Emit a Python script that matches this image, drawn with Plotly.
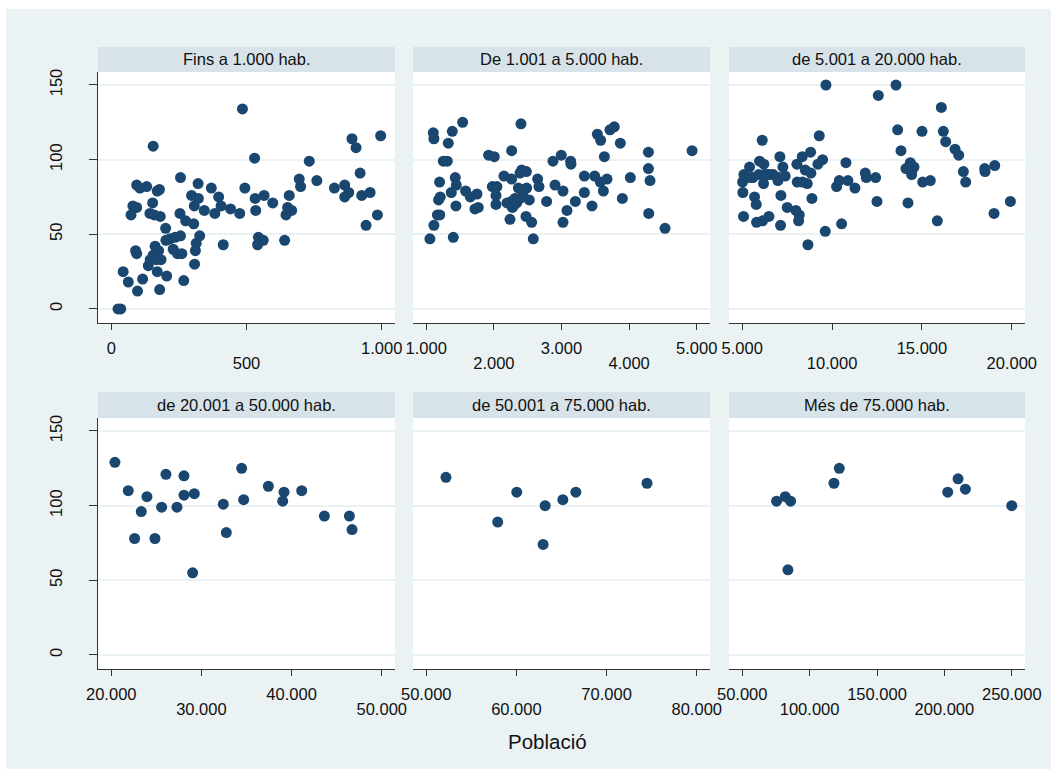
import plotly.graph_objects as go

# ---------------- data ----------------
panel_titles = ["Fins a 1.000 hab.", "De 1.001 a 5.000 hab.", "de 5.001 a 20.000 hab.",
                "de 20.001 a 50.000 hab.", "de 50.001 a 75.000 hab.", "Més de 75.000 hab."]

p1_x = [25, 35, 44, 63, 97, 116, 137, 90, 94, 170, 179, 205, 268, 308, 155, 485, 530, 996, 890, 905,
        732, 920, 760, 695, 700, 825, 863, 878, 863, 926, 957, 984, 942, 658, 652, 646, 667, 641, 597, 565,
        532, 534, 494, 475, 441, 544, 562, 541, 414, 370, 397, 406, 383, 344, 321, 297, 322, 307, 256, 254,
        275, 305, 201, 217, 236, 256, 202, 229, 245, 261, 314, 327, 311, 162, 175, 155, 184, 166, 144, 94,
        106, 131, 178, 170, 153, 80, 94, 73, 143, 159, 181]
p1_y = [0, 0, 25, 18, 12, 20, 29, 39, 37, 25, 13, 22, 19, 30, 109, 134, 101, 116, 114, 108,
        99, 91, 86, 87, 82, 81, 83, 78, 75, 76, 78, 63, 56, 76, 68, 63, 66, 46, 71, 76,
        74, 66, 81, 64, 67, 48, 46, 43, 43, 81, 75, 69, 64, 66, 84, 76, 74, 69, 88, 64,
        59, 57, 54, 47, 48, 49, 46, 40, 37, 37, 44, 49, 39, 42, 39, 36, 33, 33, 33, 83,
        81, 82, 80, 79, 71, 69, 68, 63, 64, 63, 62]

p2_x = [1054, 1113, 1165, 1200, 1182, 1207, 1197, 1104, 1113, 1385, 1538, 1326, 1252, 1311, 1429, 1444,
        1370, 1439, 1400, 1582, 1651, 1750, 1720, 1769, 1922, 2006, 1977, 2045, 2031, 2031, 2149, 2263,
        2263, 2194, 2263, 2312, 2273, 2238, 2401, 2411, 2480, 2386, 2362, 2485, 2386, 2337, 2524, 2475,
        2559, 2583, 2647, 2667, 2780, 2874, 2997, 3135, 3140, 2904, 3022, 3022, 3081, 3205, 3338, 3338,
        3451, 3490, 3574, 3673, 3619, 3530, 3579, 3717, 3781, 3634, 3870, 3900, 4018, 4285, 4285, 4309,
        4290, 4531, 4931, 2290, 2430]
p2_y = [47, 56, 63, 63, 73, 75, 85, 118, 114, 119, 125, 111, 99, 99, 88, 83,
        78, 69, 48, 79, 75, 77, 67, 68, 103, 102, 82, 82, 76, 70, 89, 106,
        87, 71, 72, 74, 68, 60, 124, 93, 92, 91, 81, 81, 74, 71, 73, 62,
        58, 47, 87, 82, 72, 99, 103, 99, 97, 83, 79, 58, 66, 72, 89, 78,
        69, 89, 85, 87, 79, 117, 113, 120, 122, 102, 111, 74, 88, 105, 94, 86,
        64, 54, 106, 69, 76]

p3_x = [9659, 13557, 12573, 16080, 13649, 15004, 16192, 16322, 13835, 16842, 17046, 9287, 6114, 8805,
        8341, 7097, 9473, 9213, 10772, 5965, 6206, 5408, 5093, 5019, 5037, 5074, 5594, 5687, 5780, 5798,
        6132, 6485, 6188, 6373, 6726, 6986, 7264, 7394, 7153, 7134, 7506, 7988, 8174, 8137, 8044, 8063,
        8508, 8619, 8823, 8359, 8878, 9621, 8656, 10252, 10401, 10883, 11273, 10531, 11849, 11904, 12424,
        12498, 14224, 14354, 14112, 14484, 14558, 14428, 15041, 15467, 15857, 17305, 17435, 18493, 18512,
        19050, 19013, 19922, 5200, 5480, 5920, 6220, 6540, 7040]
p3_y = [150, 150, 143, 135, 120, 119, 119, 112, 106, 107, 103, 116, 113, 105,
        102, 102, 100, 97, 98, 99, 97, 95, 90, 85, 78, 62, 88, 75, 70, 58,
        59, 62, 84, 90, 90, 86, 95, 89, 76, 56, 68, 66, 63, 59, 97, 85,
        93, 84, 91, 85, 74, 52, 43, 82, 86, 86, 81, 57, 91, 88, 88,
        72, 71, 98, 94, 94, 95, 90, 85, 86, 59, 92, 85, 94, 92,
        96, 64, 72, 88, 88, 90, 90, 90, 88]

p4_x = [20407, 21887, 22589, 23329, 23958, 24846, 25586, 26066, 27287, 28064, 28064, 29211, 29025,
        32429, 32762, 34464, 34686, 37423, 39162, 39014, 41121, 43636, 46411, 46707]
p4_y = [129, 110, 78, 96, 106, 78, 99, 121, 99, 120, 107, 108, 55,
        101, 82, 125, 104, 113, 109, 103, 110, 93, 93, 84]

p5_x = [52185, 57926, 60037, 63185, 62963, 65149, 66593, 74483]
p5_y = [119, 89, 109, 100, 74, 104, 109, 115]

p6_x = [75493, 81928, 85888, 83908, 118063, 122023, 202460, 210133, 215578, 249980]
p6_y = [103, 106, 103, 57, 115, 125, 109, 118, 111, 100]

xticks = [[0, 500, 1000], [1000, 2000, 3000, 4000, 5000], [5000, 10000, 15000, 20000],
          [20000, 30000, 40000, 50000], [50000, 60000, 70000, 80000],
          [50000, 100000, 150000, 200000, 250000]]
yticks = [0, 50, 100, 150]
x_title = "Població"

panels_x = [p1_x, p2_x, p3_x, p4_x, p5_x, p6_x]
panels_y = [p1_y, p2_y, p3_y, p4_y, p5_y, p6_y]

# ---------------- style / layout ----------------
W, H = 1051, 769
BG = "#EAF2F3"
STRIP = "#D7E3E8"
NAVY = "#1A476F"
AXC = "#333333"
TXT = "#111111"
FONT = "Liberation Sans, Arial, sans-serif"
FS = 16.5

cols_px = [(98, 395), (413, 710), (729, 1025)]
rows_px = [(72, 323), (418, 669)]
strips_px = [(47, 72), (392, 418)]
PAD = 0.049


def fmt(v):
    return f"{v:,}".replace(",", ".")


def px(x):
    return x / W


def py(y):
    return 1 - y / H


fig = go.Figure()
layout = dict(width=W, height=H, margin=dict(l=0, r=0, t=0, b=0, autoexpand=False),
              template="none",
              paper_bgcolor=BG, plot_bgcolor="white", showlegend=False,
              font=dict(family=FONT, size=FS, color=TXT))
shapes = [
    dict(type="rect", xref="paper", yref="paper", x0=0, x1=px(6), y0=0, y1=1,
         fillcolor="white", line=dict(width=0)),
    dict(type="rect", xref="paper", yref="paper", x0=0, x1=1, y0=py(9), y1=1,
         fillcolor="white", line=dict(width=0)),
]
annotations = []

ymin, ymax = -9.4, 158.7

for i in range(6):
    r, c = divmod(i, 3)
    n = i + 1
    m = n + 6
    xa = "xaxis" if n == 1 else f"xaxis{n}"
    ya = "yaxis" if n == 1 else f"yaxis{n}"
    xr = "x" if n == 1 else f"x{n}"
    yr = "y" if n == 1 else f"y{n}"
    tv = xticks[i]
    span = tv[-1] - tv[0]
    rng = [tv[0] - PAD * span, tv[-1] + PAD * span]
    x0p, x1p = cols_px[c]
    y0p, y1p = rows_px[r]
    lower_vals = [v for k, v in enumerate(tv) if k % 2 == 1]

    fig.add_trace(go.Scatter(x=panels_x[i], y=panels_y[i], mode="markers",
                             marker=dict(color=NAVY, size=11, line=dict(width=0)),
                             xaxis=xr, yaxis=yr, hoverinfo="x+y"))
    # empty helper trace so the overlay axis (lower tick-label row) is drawn
    fig.add_trace(go.Scatter(x=lower_vals, y=[None] * len(lower_vals), mode="markers",
                             xaxis=f"x{m}", yaxis=yr, hoverinfo="skip",
                             marker=dict(opacity=0)))

    upper = [fmt(v) if k % 2 == 0 else "" for k, v in enumerate(tv)]
    layout[xa] = dict(domain=[px(x0p), px(x1p)], anchor=yr, range=rng, automargin=False,
                      tickvals=tv, ticktext=upper, ticks="outside", ticklen=6,
                      tickwidth=1.3, tickcolor=AXC, showline=True, linecolor=AXC,
                      linewidth=1.3, showgrid=False, zeroline=False,
                      tickfont=dict(size=FS, color=TXT), ticklabelstandoff=4)
    layout[f"xaxis{m}"] = dict(domain=[px(x0p), px(x1p)], anchor=yr, range=rng,
                               automargin=False, overlaying=xr, tickvals=lower_vals,
                               ticktext=[fmt(v) for v in lower_vals],
                               ticks="outside", ticklen=6, tickcolor="rgba(0,0,0,0)",
                               showline=False, showgrid=False, zeroline=False,
                               tickfont=dict(size=FS, color=TXT),
                               ticklabelstandoff=19, side="bottom")

    show_y = (c == 0)
    layout[ya] = dict(domain=[py(y1p), py(y0p)], anchor=xr, range=[ymin, ymax],
                      automargin=False,
                      tickvals=yticks, ticktext=[str(v) for v in yticks],
                      showticklabels=show_y, ticks="outside" if show_y else "",
                      ticklen=8, tickwidth=1.3, tickcolor=AXC,
                      showline=show_y, linecolor=AXC, linewidth=1.3,
                      tickangle=-90, showgrid=True, gridcolor=BG, gridwidth=2,
                      zeroline=False, tickfont=dict(size=FS, color=TXT),
                      ticklabelstandoff=20)

    s0, s1 = strips_px[r]
    shapes.append(dict(type="rect", xref="paper", yref="paper",
                       x0=px(x0p), x1=px(x1p), y0=py(s1), y1=py(s0),
                       fillcolor=STRIP, line=dict(width=0)))
    annotations.append(dict(text=panel_titles[i], xref="paper", yref="paper",
                            x=px((x0p + x1p) / 2), y=py((s0 + s1) / 2),
                            xanchor="center", yanchor="middle", showarrow=False,
                            font=dict(size=FS, color=TXT)))

annotations.append(dict(text=x_title, xref="paper", yref="paper",
                        x=px(547), y=py(741), xanchor="center", yanchor="middle",
                        showarrow=False, font=dict(size=20.5, color=TXT)))

layout["shapes"] = shapes
layout["annotations"] = annotations
fig.update_layout(**layout)
fig.write_html("out.html")
